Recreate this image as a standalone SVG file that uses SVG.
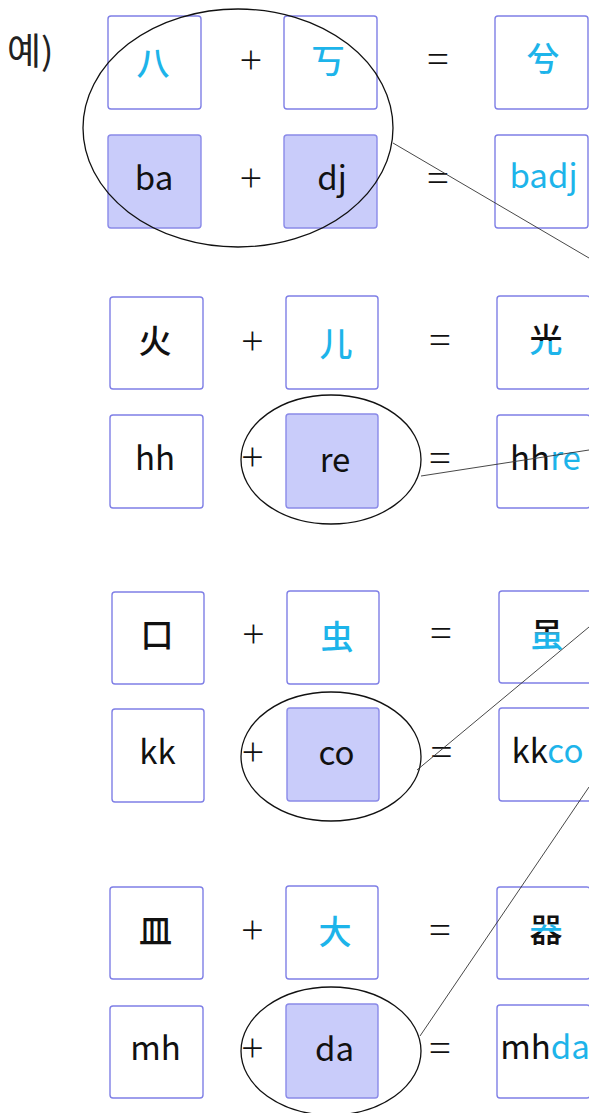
<svg xmlns="http://www.w3.org/2000/svg" width="589" height="1113" viewBox="0 0 589 1113">
<style>
.box{fill:#fff;stroke:#7f7fe6;stroke-width:1.4}
.sel{fill:#c9ccfa;stroke:#8a8ae8;stroke-width:1.4}
.lat{font-family:"Noto Sans CJK SC","Open Sans",sans-serif;font-size:33px;font-weight:400;fill:#111;text-anchor:middle}
.cjk{font-family:"Noto Sans CJK SC",sans-serif;font-size:33px;font-weight:500;fill:#111;text-anchor:middle}
.op{font-family:"Open Sans","Liberation Sans",sans-serif;font-size:40px;font-weight:300;fill:#111;text-anchor:middle}
.cy{fill:#1db4ea}
.ell{fill:none;stroke:#111;stroke-width:1.3}
.con{stroke:#333;stroke-width:0.9;fill:none}
</style>
<defs>
<clipPath id="gTop"><rect x="520" y="300" width="60" height="41"/></clipPath>
<clipPath id="gBot"><rect x="520" y="341" width="60" height="40"/></clipPath>
<clipPath id="sTop"><rect x="520" y="600" width="60" height="32.5"/></clipPath>
<clipPath id="sBot"><rect x="520" y="632.5" width="60" height="40"/></clipPath>
<clipPath id="qOut"><path d="M520 900H580V924.5H520Z M520 932H580V960H520Z"/></clipPath>
<clipPath id="qMid"><rect x="520" y="924.5" width="60" height="7.5"/></clipPath>
</defs>

<text x="7" y="65" font-family="Noto Sans CJK KR, sans-serif" font-size="37" fill="#222">예)</text>

<g id="r1">
<g id="n-ba-hz"><rect class="box" x="108" y="16" width="93" height="93" rx="3"/><text class="cjk cy" x="153" y="74.5">八</text></g>
<text class="op" x="251" y="74">+</text>
<g id="n-dj-hz"><rect class="box" x="284" y="16" width="93" height="93" rx="3"/><text class="cjk cy" x="328" y="72.5">丂</text></g>
<text class="op" x="438" y="73">=</text>
<g id="n-badj-hz"><rect class="box" x="495" y="16" width="93" height="93" rx="3"/><text class="cjk cy" x="543" y="71" font-size="30">兮</text></g>
<g id="n-ba"><rect class="sel" x="108" y="135" width="93" height="93" rx="3"/><text class="lat" x="154" y="190">ba</text></g>
<text class="op" x="251" y="192">+</text>
<g id="n-dj"><rect class="sel" x="284" y="135" width="93" height="93" rx="3"/><text class="lat" x="332" y="190">dj</text></g>
<text class="op" x="438" y="192">=</text>
<g id="n-badj"><rect class="box" x="495" y="135" width="93" height="93" rx="3"/><text class="lat cy" x="543.5" y="188" font-weight="500">badj</text></g>
</g>

<g id="r2">
<g id="n-hh-hz"><rect class="box" x="110" y="297" width="93" height="92" rx="3"/><text class="cjk" x="155" y="352.5">火</text></g>
<text class="op" x="252.5" y="355">+</text>
<g id="n-re-hz"><rect class="box" x="286" y="296" width="92" height="93" rx="3"/><text class="cjk cy" x="336" y="355.5">儿</text></g>
<text class="op" x="440" y="354">=</text>
<g id="n-hhre-hz"><rect class="box" x="497" y="296" width="93" height="93" rx="3"/>
<text class="cjk" x="546" y="351.5" clip-path="url(#gTop)">光</text><text class="cjk cy" x="546" y="351.5" clip-path="url(#gBot)">光</text></g>
<g id="n-hh"><rect class="box" x="110" y="415" width="93" height="93" rx="3"/><text class="lat" x="155" y="470">hh</text></g>
<text class="op" x="252.5" y="471">+</text>
<g id="n-re"><rect class="sel" x="286" y="414" width="92" height="94" rx="3"/><text class="lat" x="335" y="472">re</text></g>
<text class="op" x="440" y="472">=</text>
<g id="n-hhre"><rect class="box" x="497" y="415" width="93" height="93" rx="3"/><text class="lat" x="545.5" y="470" font-weight="500">hh<tspan class="cy">re</tspan></text></g>
</g>

<g id="r3">
<g id="n-kk-hz"><rect class="box" x="112" y="592" width="92" height="92" rx="3"/><text class="cjk" x="157" y="647">口</text></g>
<text class="op" x="253.5" y="648">+</text>
<g id="n-co-hz"><rect class="box" x="287" y="591" width="92" height="93" rx="3"/><text class="cjk cy" x="337" y="648.5">虫</text></g>
<text class="op" x="441" y="647">=</text>
<g id="n-kkco-hz"><rect class="box" x="499" y="591" width="93" height="92" rx="3"/>
<text class="cjk" x="547" y="646.5" clip-path="url(#sTop)">虽</text><text class="cjk cy" x="547" y="646.5" clip-path="url(#sBot)">虽</text></g>
<g id="n-kk"><rect class="box" x="112" y="709" width="92" height="93" rx="3"/><text class="lat" x="157.5" y="764">kk</text></g>
<text class="op" x="253" y="766">+</text>
<g id="n-co"><rect class="sel" x="287" y="708" width="92" height="93" rx="3"/><text class="lat" x="336.5" y="765">co</text></g>
<text class="op" x="441.5" y="766">=</text>
<g id="n-kkco"><rect class="box" x="499" y="708" width="93" height="93" rx="3"/><text class="lat" x="547.5" y="763" font-weight="500">kk<tspan class="cy">co</tspan></text></g>
</g>

<g id="r4">
<g id="n-mh-hz"><rect class="box" x="110" y="887" width="93" height="92" rx="3"/><text class="cjk" x="155.5" y="943">皿</text></g>
<text class="op" x="252.5" y="944">+</text>
<g id="n-da-hz"><rect class="box" x="286" y="886" width="92" height="93" rx="3"/><text class="cjk cy" x="335" y="943.5">大</text></g>
<text class="op" x="440" y="944">=</text>
<g id="n-mhda-hz"><rect class="box" x="497" y="887" width="93" height="92" rx="3"/>
<text class="cjk" x="546" y="941.5" clip-path="url(#qOut)">器</text><text class="cjk cy" x="546" y="941.5" clip-path="url(#qMid)">器</text></g>
<g id="n-mh"><rect class="box" x="110" y="1006" width="93" height="92" rx="3"/><text class="lat" x="155.5" y="1060">mh</text></g>
<text class="op" x="252.5" y="1062">+</text>
<g id="n-da"><rect class="sel" x="286" y="1004" width="92" height="94" rx="3"/><text class="lat" x="334.5" y="1061">da</text></g>
<text class="op" x="440" y="1062">=</text>
<g id="n-mhda"><rect class="box" x="497" y="1005" width="93" height="93" rx="3"/><text class="lat" x="545" y="1059" font-size="32" font-weight="500">mh<tspan class="cy">da</tspan></text></g>
</g>

<g id="connectors">
<ellipse class="ell" cx="238" cy="128" rx="155" ry="119"/>
<ellipse class="ell" cx="331" cy="459.5" rx="90" ry="64.5"/>
<ellipse class="ell" cx="331" cy="756.5" rx="90" ry="64.5"/>
<ellipse class="ell" cx="331" cy="1051" rx="90" ry="64"/>
<line class="con" x1="393" y1="143" x2="589" y2="258"/>
<line class="con" x1="421" y1="476" x2="589" y2="450"/>
<line class="con" x1="417" y1="770" x2="589" y2="627"/>
<line class="con" x1="420" y1="1036" x2="589" y2="787"/>
</g>
</svg>
